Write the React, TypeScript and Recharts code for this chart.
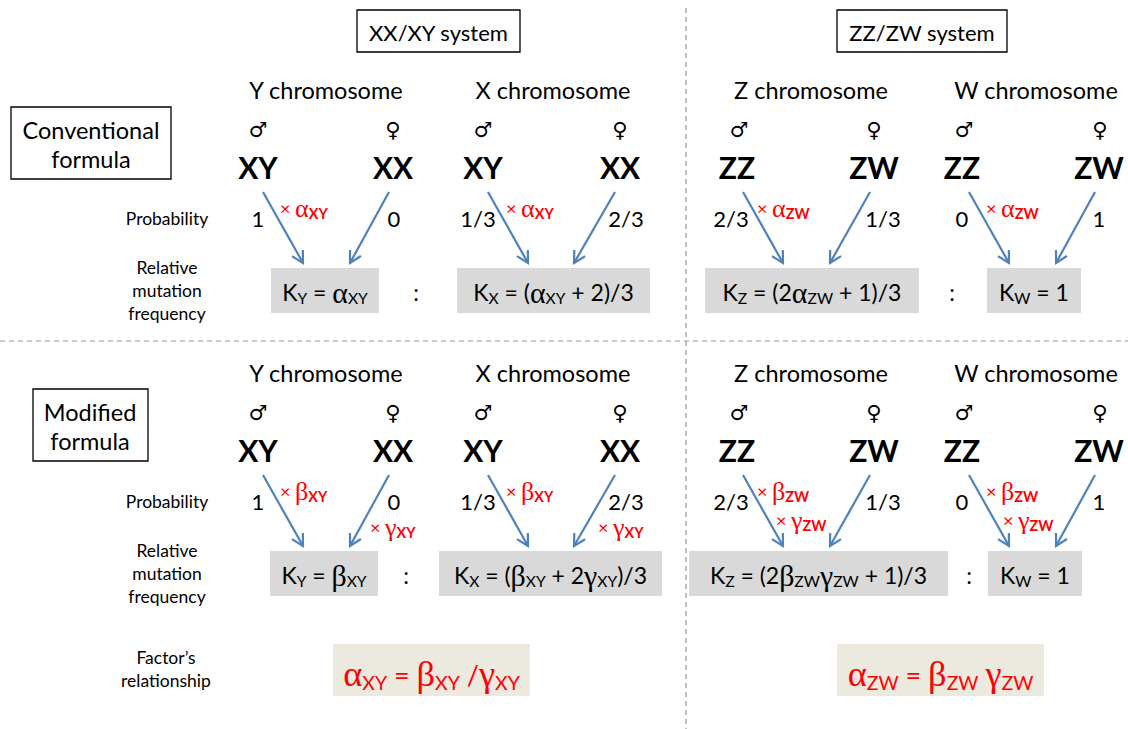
import React from "react";
import { ScatterChart, Scatter, XAxis, YAxis, ReferenceArea, ReferenceLine } from "recharts";

const W = 1128;
const H = 729;
const SANS = "Lato, 'Open Sans', sans-serif";
const GREEK = "'Liberation Serif', 'DejaVu Serif', serif";
const SYMBOL = "'DejaVu Sans', sans-serif";
const RED = "#ff0000";
const BLUE = "#4f81bd";
const GRAY_BOX = "#d9d9d9";
const BEIGE_BOX = "#ece9df";

// bottom panel repeats the top one, shifted down
const panelShift = [0, 283];

const systems = ["XX/XY system", "ZZ/ZW system"];
const systemBoxes = [[357, 520], [837, 1007]];

const chromosomes = ["Y chromosome", "X chromosome", "Z chromosome", "W chromosome"];
const chromosomeX = [326, 553, 811, 1036];

const sexes = ["♂", "♀", "♂", "♀", "♂", "♀", "♂", "♀"];
const sexX = [258, 393, 483, 620, 739, 874, 964, 1100];
const genotypes = ["XY", "XX", "XY", "XX", "ZZ", "ZW", "ZZ", "ZW"];
const genotypeX = [258, 393, 483, 620, 737, 874, 962, 1099];

const probabilities = ["1", "0", "1/3", "2/3", "2/3", "1/3", "0", "1"];
const probabilityX = [258, 394, 478, 626, 731, 883, 962, 1099];

// arrows: [fromX, fromY, toX, toY] in the top panel
const arrows = [
  [263, 192, 303, 263],
  [389, 192, 350, 263],
  [488, 192, 528, 263],
  [615, 192, 574, 263],
  [743, 192, 783, 263],
  [870, 192, 830, 263],
  [969, 192, 1009, 263],
  [1095, 192, 1056, 263],
];

const factorX = [280, 506, 757, 986];
const conventionalFactors = ["× α_{XY}", "× α_{XY}", "× α_{ZW}", "× α_{ZW}"];
const modifiedBeta = ["× β_{XY}", "× β_{XY}", "× β_{ZW}", "× β_{ZW}"];
const modifiedGamma = ["× γ_{XY}", "× γ_{XY}", "× γ_{ZW}", "× γ_{ZW}"];
const gammaX = [370, 598, 776, 1003];
const gammaY = [527, 527, 520, 520];

const conventionalK = ["K_{Y} = α_{XY}", "K_{X} = (α_{XY} + 2)/3", "K_{Z} = (2α_{ZW} + 1)/3", "K_{W} = 1"];
const conventionalBoxes = [[271, 379], [457, 650], [705, 919], [987, 1081]];
const conventionalColons = [416, 952];

const modifiedK = ["K_{Y} = β_{XY}", "K_{X} = (β_{XY} + 2γ_{XY})/3", "K_{Z} = (2β_{ZW}γ_{ZW} + 1)/3", "K_{W} = 1"];
const modifiedBoxes = [[270, 378], [439, 662], [689, 948], [988, 1082]];
const modifiedColons = [406, 969];

const relationships = ["α_{XY} = β_{XY} /γ_{XY}", "α_{ZW} = β_{ZW} γ_{ZW}"];
const relationshipBoxes = [[333, 530], [837, 1044]];

const rowLabels = ["Probability", "Relative", "mutation", "frequency"];
const rowLabelY = [218, 267, 290, 313];
const factorLabels = ["Factor’s", "relationship"];
const factorLabelY = [657, 680];

type Piece = { t: string; sub: boolean; greek: boolean };

function splitRich(text: string): Piece[] {
  const out: Piece[] = [];
  text.split(/(_\{[^}]*\})/).forEach((seg) => {
    if (!seg) return;
    const sub = seg.startsWith("_{");
    const body = sub ? seg.slice(2, -1) : seg;
    body.split(/([αβγ])/).forEach((t) => {
      if (t) out.push({ t, sub, greek: /[αβγ]/.test(t) });
    });
  });
  return out;
}

function RichText({ x, y, text, size, color = "#000", weight = "normal", anchor = "middle", family = SANS, subWeight, greekScale = 1.3, subScale = 0.68 }: any) {
  const shift = size * 0.28;
  let prev = false;
  return (
    <text x={x} y={y} textAnchor={anchor} dominantBaseline="central" fill={color} fontFamily={family} fontWeight={weight} fontSize={size}>
      {splitRich(text).map((p, i) => {
        const dy = (p.sub ? shift : 0) - (prev ? shift : 0);
        prev = p.sub;
        return (
          <tspan
            key={i}
            dy={dy || undefined}
            fontSize={p.sub ? size * subScale : p.greek ? size * greekScale : size}
            fontFamily={p.greek ? GREEK : undefined}
            fontWeight={p.sub && subWeight ? subWeight : undefined}
          >
            {p.t}
          </tspan>
        );
      })}
    </text>
  );
}

const textShape = (style: any) => (p: any) => <RichText x={p.cx} y={p.cy} text={p.payload.label} {...style} />;

const ArrowHead = (p: any) => {
  const d = p.payload;
  if (!d.head) return <g />;
  const ang = Math.atan2(d.y - d.fy, d.x - d.fx);
  const len = 13;
  const s = 0.5;
  const ax = p.cx - len * Math.cos(ang - s);
  const ay = p.cy - len * Math.sin(ang - s);
  const bx = p.cx - len * Math.cos(ang + s);
  const by = p.cy - len * Math.sin(ang + s);
  return <polyline points={`${ax},${ay} ${p.cx},${p.cy} ${bx},${by}`} fill="none" stroke={BLUE} strokeWidth={2.2} />;
};

function TextSeries(key: string, data: any[], style: any) {
  return <Scatter key={key} data={data} isAnimationActive={false} shape={textShape(style)} />;
}

export default function App() {
  const texts: any[] = [];
  const boxes: any[] = [];
  const arrowSeries: any[] = [];

  systems.forEach((label, i) => {
    const [x1, x2] = systemBoxes[i];
    boxes.push(<ReferenceArea key={`sb${i}`} x1={x1} x2={x2} y1={10} y2={52} fill="#fff" fillOpacity={1} stroke="#000" strokeWidth={1.3} />);
  });
  texts.push(TextSeries("systems", systems.map((label, i) => ({ x: (systemBoxes[i][0] + systemBoxes[i][1]) / 2, y: 32, label })), { size: 22 }));

  // formula type boxes
  boxes.push(<ReferenceArea key="conv" x1={11} x2={171} y1={107} y2={179} fill="#fff" fillOpacity={1} stroke="#000" strokeWidth={1.3} />);
  boxes.push(<ReferenceArea key="mod" x1={33} x2={148} y1={389} y2={461} fill="#fff" fillOpacity={1} stroke="#000" strokeWidth={1.3} />);
  texts.push(
    TextSeries("formulaType", [
      { x: 91, y: 130, label: "Conventional" },
      { x: 91, y: 159, label: "formula" },
      { x: 90, y: 412, label: "Modified" },
      { x: 90, y: 441, label: "formula" },
    ], { size: 23.5 })
  );

  panelShift.forEach((off, pi) => {
    texts.push(TextSeries(`chrom${pi}`, chromosomes.map((label, i) => ({ x: chromosomeX[i], y: 90 + off, label })), { size: 23.5 }));
    texts.push(TextSeries(`sex${pi}`, sexes.map((label, i) => ({ x: sexX[i], y: 130 + off, label })), { size: 21, family: SYMBOL }));
    texts.push(TextSeries(`geno${pi}`, genotypes.map((label, i) => ({ x: genotypeX[i], y: 167 + off, label })), { size: 30, weight: 700 }));
    texts.push(TextSeries(`prob${pi}`, probabilities.map((label, i) => ({ x: probabilityX[i], y: 218 + off, label })), { size: 22 }));
    texts.push(TextSeries(`rows${pi}`, rowLabels.map((label, i) => ({ x: 167, y: rowLabelY[i] + off, label })), { size: 17.5 }));
    arrows.forEach(([fx, fy, tx, ty], i) => {
      arrowSeries.push(
        <Scatter
          key={`ar${pi}-${i}`}
          data={[
            { x: fx, y: fy + off },
            { x: tx, y: ty + off, fx, fy: fy + off, head: true },
          ]}
          line={{ stroke: BLUE, strokeWidth: 2.2 }}
          lineType="joint"
          fill={BLUE}
          shape={ArrowHead}
          isAnimationActive={false}
        />
      );
    });
  });

  const factorStyle = { size: 18, color: RED, anchor: "start", subWeight: 700, greekScale: 1.45, subScale: 0.8 };
  texts.push(TextSeries("convFactors", conventionalFactors.map((label, i) => ({ x: factorX[i], y: 208, label })), factorStyle));
  texts.push(TextSeries("betaFactors", modifiedBeta.map((label, i) => ({ x: factorX[i], y: 491, label })), factorStyle));
  texts.push(TextSeries("gammaFactors", modifiedGamma.map((label, i) => ({ x: gammaX[i], y: gammaY[i], label })), factorStyle));

  conventionalBoxes.forEach(([x1, x2], i) => {
    boxes.push(<ReferenceArea key={`cb${i}`} x1={x1} x2={x2} y1={268} y2={313} fill={GRAY_BOX} fillOpacity={1} stroke="none" />);
  });
  modifiedBoxes.forEach(([x1, x2], i) => {
    boxes.push(<ReferenceArea key={`mb${i}`} x1={x1} x2={x2} y1={551} y2={596} fill={GRAY_BOX} fillOpacity={1} stroke="none" />);
  });
  relationshipBoxes.forEach(([x1, x2], i) => {
    boxes.push(<ReferenceArea key={`rb${i}`} x1={x1} x2={x2} y1={644} y2={696} fill={BEIGE_BOX} fillOpacity={1} stroke="none" />);
  });

  texts.push(TextSeries("convK", conventionalK.map((label, i) => ({ x: (conventionalBoxes[i][0] + conventionalBoxes[i][1]) / 2, y: 292, label })), { size: 23 }));
  texts.push(TextSeries("modK", modifiedK.map((label, i) => ({ x: (modifiedBoxes[i][0] + modifiedBoxes[i][1]) / 2, y: 575, label })), { size: 23 }));
  texts.push(
    TextSeries("colons", [
      ...conventionalColons.map((x) => ({ x, y: 292, label: ":" })),
      ...modifiedColons.map((x) => ({ x, y: 575, label: ":" })),
    ], { size: 23 })
  );
  texts.push(TextSeries("rel", relationships.map((label, i) => ({ x: (relationshipBoxes[i][0] + relationshipBoxes[i][1]) / 2, y: 674, label })), { size: 27, color: RED, greekScale: 1.35, subScale: 0.72 }));
  texts.push(TextSeries("factorLabels", factorLabels.map((label, i) => ({ x: 166, y: factorLabelY[i], label })), { size: 17.5 }));

  return (
    <div style={{ width: W, height: H, background: "#fff" }}>
      <style>{"body{margin:0}"}</style>
      <ScatterChart width={W} height={H} margin={{ top: 0, right: 0, bottom: 0, left: 0 }}>
        <XAxis type="number" dataKey="x" domain={[0, W]} hide allowDataOverflow />
        <YAxis type="number" dataKey="y" domain={[0, H]} reversed hide allowDataOverflow width={0} />
        <ReferenceLine segment={[{ x: 686, y: 8 }, { x: 686, y: H }]} stroke="#999" strokeDasharray="5 4" strokeWidth={1.2} />
        <ReferenceLine segment={[{ x: 0, y: 341 }, { x: W, y: 341 }]} stroke="#999" strokeDasharray="5 4" strokeWidth={1.2} />
        {boxes}
        {arrowSeries}
        {texts}
      </ScatterChart>
    </div>
  );
}
